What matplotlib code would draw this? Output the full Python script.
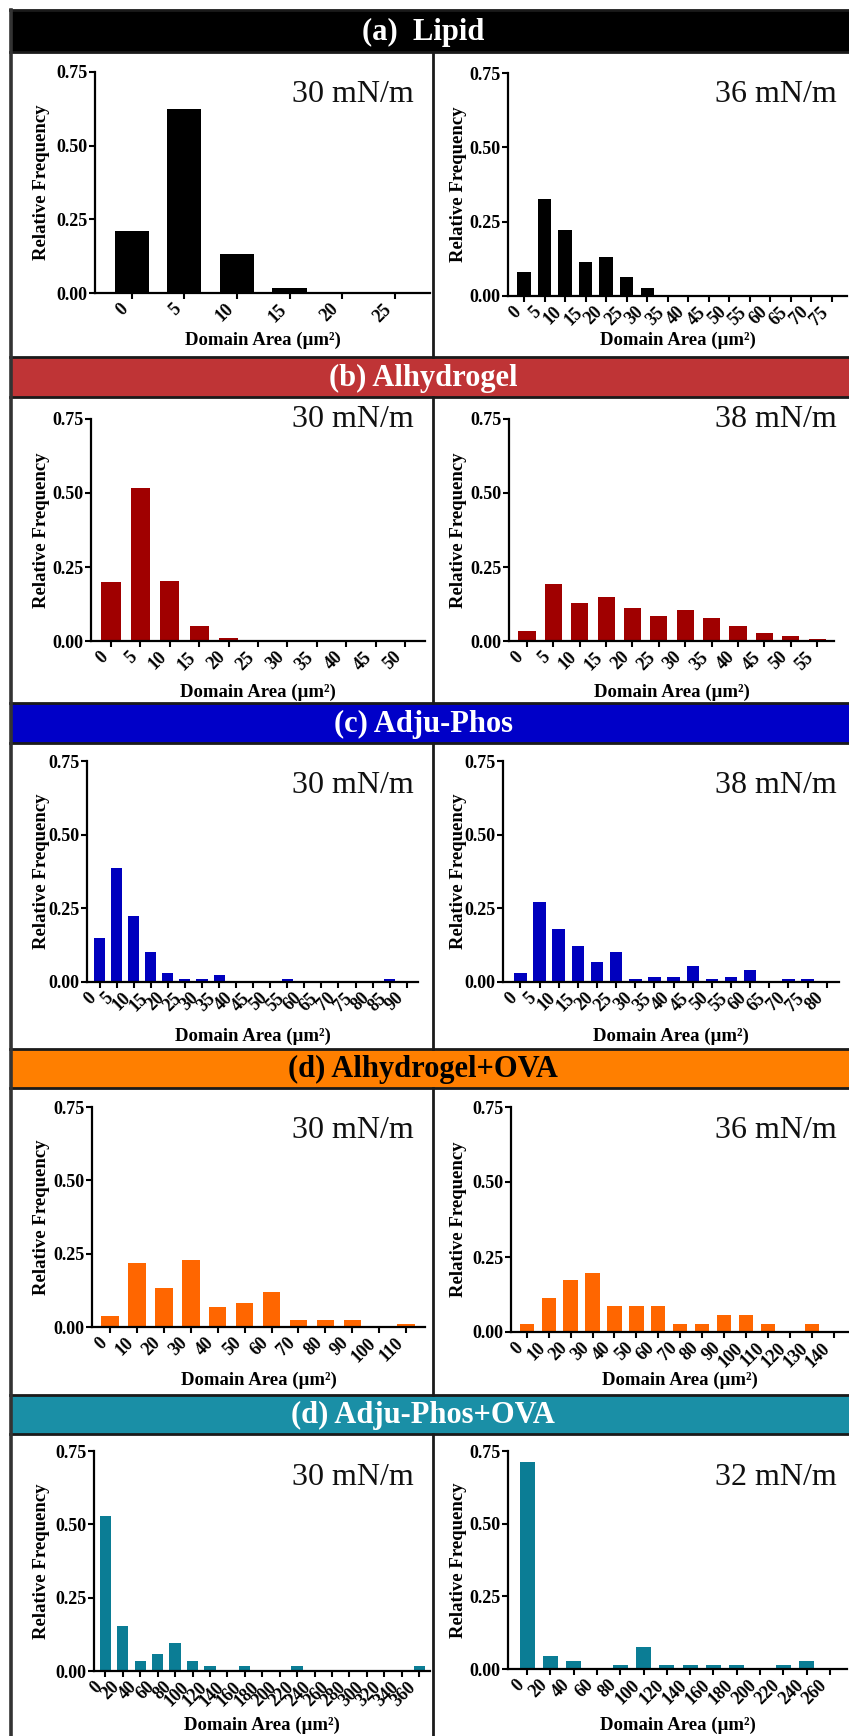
import matplotlib
matplotlib.use("Agg")
import matplotlib.pyplot as plt
from matplotlib.patches import Rectangle
from matplotlib.lines import Line2D

# ---------------- data ----------------
LIPID_30_BINS = ["0", "5", "10", "15", "20", "25"]
LIPID_30_FREQ = [0.211, 0.626, 0.132, 0.016, 0.0, 0.0]
LIPID_36_BINS = ["0", "5", "10", "15", "20", "25", "30", "35", "40", "45",
                 "50", "55", "60", "65", "70", "75"]
LIPID_36_FREQ = [0.080, 0.326, 0.222, 0.115, 0.131, 0.063, 0.028, 0, 0, 0,
                 0, 0, 0, 0, 0, 0]

ALHY_30_BINS = ["0", "5", "10", "15", "20", "25", "30", "35", "40", "45", "50"]
ALHY_30_FREQ = [0.198, 0.516, 0.202, 0.050, 0.011, 0, 0, 0, 0, 0, 0]
ALHY_38_BINS = ["0", "5", "10", "15", "20", "25", "30", "35", "40", "45",
                "50", "55"]
ALHY_38_FREQ = [0.034, 0.191, 0.129, 0.147, 0.112, 0.086, 0.104, 0.077,
                0.051, 0.026, 0.016, 0.008]

ADJU_30_BINS = ["0", "5", "10", "15", "20", "25", "30", "35", "40", "45",
                "50", "55", "60", "65", "70", "75", "80", "85", "90"]
ADJU_30_FREQ = [0.148, 0.387, 0.223, 0.102, 0.032, 0.010, 0.010, 0.023, 0,
                0, 0, 0.010, 0, 0, 0, 0, 0, 0.010, 0]
ADJU_38_BINS = ["0", "5", "10", "15", "20", "25", "30", "35", "40", "45",
                "50", "55", "60", "65", "70", "75", "80"]
ADJU_38_FREQ = [0.032, 0.271, 0.180, 0.122, 0.067, 0.102, 0.010, 0.018,
                0.018, 0.053, 0.010, 0.018, 0.041, 0, 0.010, 0.010, 0]

ALOVA_30_BINS = ["0", "10", "20", "30", "40", "50", "60", "70", "80", "90",
                 "100", "110"]
ALOVA_30_FREQ = [0.036, 0.217, 0.133, 0.230, 0.068, 0.082, 0.120, 0.024,
                 0.024, 0.024, 0, 0.011]
ALOVA_36_BINS = ["0", "10", "20", "30", "40", "50", "60", "70", "80", "90",
                 "100", "110", "120", "130", "140"]
ALOVA_36_FREQ = [0.026, 0.112, 0.172, 0.198, 0.086, 0.086, 0.086, 0.026,
                 0.026, 0.056, 0.056, 0.026, 0, 0.026, 0]

ADOVA_30_BINS = ["0", "20", "40", "60", "80", "100", "120", "140", "160",
                 "180", "200", "220", "240", "260", "280", "300", "320",
                 "340", "360"]
ADOVA_30_FREQ = [0.528, 0.152, 0.035, 0.057, 0.096, 0.035, 0.017, 0, 0.017,
                 0, 0, 0.017, 0, 0, 0, 0, 0, 0, 0.017]
ADOVA_32_BINS = ["0", "20", "40", "60", "80", "100", "120", "140", "160",
                 "180", "200", "220", "240", "260"]
ADOVA_32_FREQ = [0.711, 0.046, 0.029, 0, 0.015, 0.077, 0.015, 0.015, 0.015,
                 0.015, 0, 0.015, 0.029, 0]

ROW_TITLES = ["(a)  Lipid", "(b) Alhydrogel", "(c) Adju-Phos",
              "(d) Alhydrogel+OVA", "(d) Adju-Phos+OVA"]
PRESSURES = [("30 mN/m", "36 mN/m"), ("30 mN/m", "38 mN/m"),
             ("30 mN/m", "38 mN/m"), ("30 mN/m", "36 mN/m"),
             ("30 mN/m", "32 mN/m")]
PANELS = [((LIPID_30_BINS, LIPID_30_FREQ), (LIPID_36_BINS, LIPID_36_FREQ)),
          ((ALHY_30_BINS, ALHY_30_FREQ), (ALHY_38_BINS, ALHY_38_FREQ)),
          ((ADJU_30_BINS, ADJU_30_FREQ), (ADJU_38_BINS, ADJU_38_FREQ)),
          ((ALOVA_30_BINS, ALOVA_30_FREQ), (ALOVA_36_BINS, ALOVA_36_FREQ)),
          ((ADOVA_30_BINS, ADOVA_30_FREQ), (ADOVA_32_BINS, ADOVA_32_FREQ))]

# ---------------- styles / layout ----------------
HEADER_COLORS = ["#000000", "#BF3436", "#0000C8", "#FF7F00", "#1A8FA6"]
HEADER_TEXT_COLORS = ["white", "white", "white", "black", "white"]
BAR_COLORS = ["#000000", "#A00000", "#0000BE", "#FF6600", "#0B7D95"]

W, H, DPI = 849, 1736, 100
HEADERS = [(10, 52), (357, 397), (703, 743), (1049, 1088), (1395, 1434)]
# per panel: x0, x1, ytop(0.75), ybot(0.00), left pad, right pad (category units)
AXES_LAYOUT = [
    [(95, 430, 72, 293, 0.70, 0.67), (508, 847, 73, 296, 0.78, 0.73)],
    [(91, 425, 419, 641, 0.68, 0.68), (509, 834, 419, 641, 0.68, 0.64)],
    [(87, 418, 761, 982, 0.74, 0.66), (503, 839, 761, 982, 0.91, 0.64)],
    [(92, 425, 1107, 1327, 0.67, 0.70), (511, 849, 1107, 1332, 0.72, 0.70)],
    [(94, 430, 1451, 1671, 0.65, 0.62), (508, 847, 1451, 1669, 0.82, 0.73)],
]
PRESS_BASELINE = [102, 427, 793, 1138, 1485]
XLABEL_Y = [340, 692, 1036, 1380, 1725]
YLABEL_X = (42, 459)
PRESS_RIGHT = (414, 837)

plt.rcParams["font.family"] = ["Liberation Serif", "DejaVu Serif"]
plt.rcParams["font.weight"] = "bold"

fig = plt.figure(figsize=(W / DPI, H / DPI), dpi=DPI)


def fx(px):
    return px / W


def fy(py):
    return 1 - py / H


LW_FRAME = 2.0
FRAME_COLOR = "#1a1a1a"

# headers and frame
for r, (top, bot) in enumerate(HEADERS):
    fig.patches.append(Rectangle((fx(10), fy(bot)), fx(W + 5 - 10), (bot - top) / H,
                                 transform=fig.transFigure, facecolor=HEADER_COLORS[r],
                                 edgecolor="none", zorder=1))
    for yy in (top, bot):
        fig.lines.append(Line2D([fx(10), fx(W + 5)], [fy(yy), fy(yy)],
                                transform=fig.transFigure, color=FRAME_COLOR,
                                lw=LW_FRAME, zorder=3))
    fig.text(fx(423), fy((top + bot) / 2 + 1), ROW_TITLES[r], ha="center", va="center",
             color=HEADER_TEXT_COLORS[r], fontsize=22, fontweight="bold", zorder=4)
    nxt = HEADERS[r + 1][0] if r + 1 < len(HEADERS) else H + 5
    fig.lines.append(Line2D([fx(433), fx(433)], [fy(bot), fy(nxt)],
                            transform=fig.transFigure, color=FRAME_COLOR,
                            lw=LW_FRAME, zorder=3))
fig.lines.append(Line2D([fx(11), fx(11)], [fy(10), fy(H + 5)],
                        transform=fig.transFigure, color="#333333", lw=2.6, zorder=3))

# panels
for r in range(5):
    for c in range(2):
        bins, freq = PANELS[r][c]
        x0, x1, yt, yb, lp, rp = AXES_LAYOUT[r][c]
        ax = fig.add_axes([fx(x0), fy(yb), (x1 - x0) / W, (yb - yt) / H])
        ax.bar(bins, freq, width=0.65, color=BAR_COLORS[r], linewidth=0)
        n = len(bins)
        ax.set_xlim(-lp, n - 1 + rp)
        ax.set_ylim(0, 0.75)
        ax.set_yticks([0, 0.25, 0.5, 0.75])
        ax.set_yticklabels(["0.00", "0.25", "0.50", "0.75"])
        for s in ("top", "right"):
            ax.spines[s].set_visible(False)
        for s in ("left", "bottom"):
            ax.spines[s].set_linewidth(1.6)
            ax.spines[s].set_color("black")
        ax.tick_params(axis="both", direction="out", length=4, width=1.5,
                       labelsize=13, pad=1.5, colors="black")
        for lbl in ax.get_xticklabels():
            lbl.set_rotation(45)
            lbl.set_ha("right")
            lbl.set_va("top")
            lbl.set_rotation_mode("default")
        ax.patch.set_alpha(0)
        ax.set_ylabel("Relative Frequency", fontsize=13.5, fontweight="bold", va="center")
        ax.yaxis.set_label_coords(fx(YLABEL_X[c]), fy((yt + yb) / 2),
                                  transform=fig.transFigure)
        ax.set_xlabel("Domain Area (µm²)", fontsize=13.5, fontweight="bold", va="center")
        ax.xaxis.set_label_coords(fx((x0 + x1) / 2), fy(XLABEL_Y[r]),
                                  transform=fig.transFigure)
        fig.text(fx(PRESS_RIGHT[c]), fy(PRESS_BASELINE[r]), PRESSURES[r][c],
                 ha="right", va="baseline", fontsize=23, fontweight="normal",
                 color="#111111")

fig.savefig("out.png", dpi=DPI, facecolor="white")
